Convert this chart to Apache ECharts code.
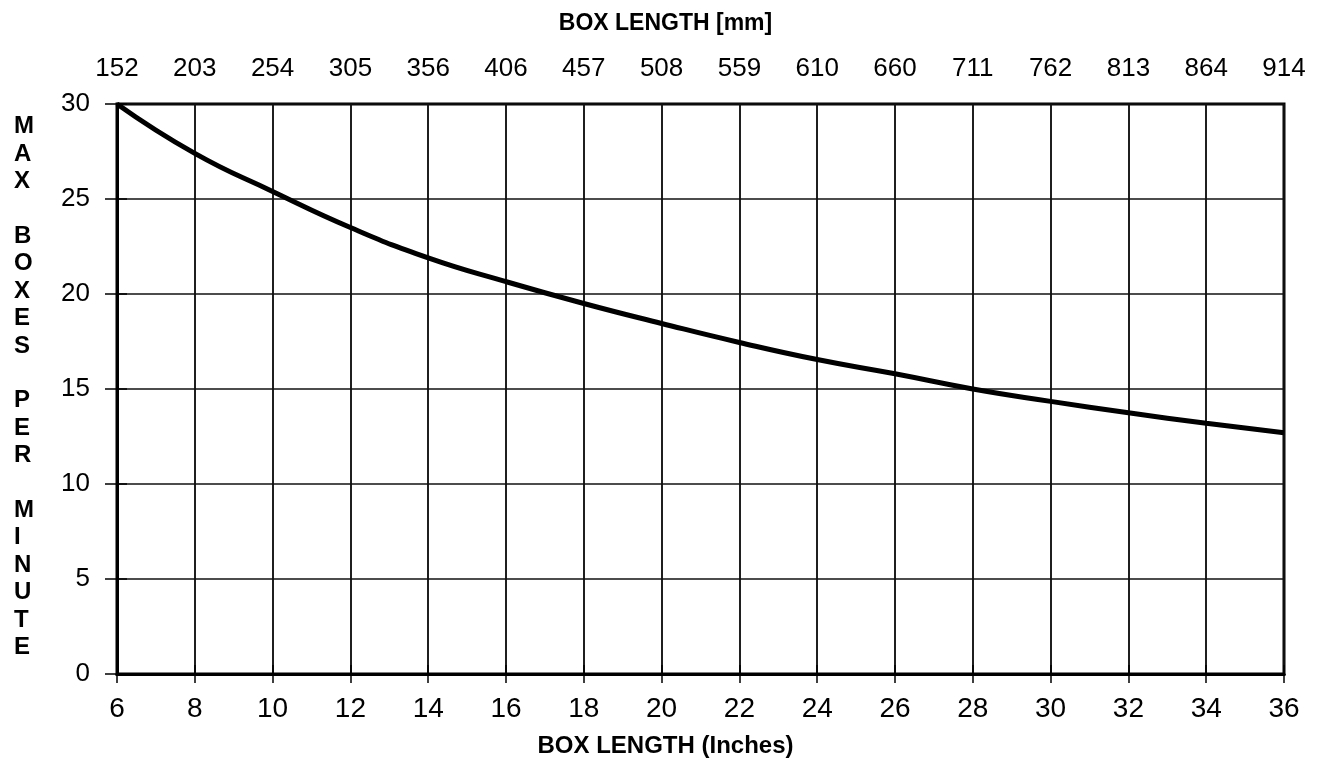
<!DOCTYPE html>
<html>
<head>
<meta charset="utf-8">
<script src="https://cdn.jsdelivr.net/npm/echarts@6/dist/echarts.min.js"></script>
<style>
  html, body { margin: 0; padding: 0; background: #fff; }
  #chart { width: 1331px; height: 774px; }
</style>
</head>
<body>
<div id="chart"></div>
<script>
  // box length in inches and the max boxes per minute
  var inches = [6, 8, 10, 12, 14, 16, 18, 20, 22, 24, 26, 28, 30, 32, 34, 36];
  var boxesPerMin = [30, 27.4, 25.4, 23.5, 21.9, 20.65, 19.5, 18.45, 17.45, 16.55, 15.8, 15.0, 14.35, 13.75, 13.2, 12.7];
  // top axis tick labels (mm)
  var mmLabels = ['152', '203', '254', '305', '356', '406', '457', '508', '559', '610', '660', '711', '762', '813', '864', '914'];
  var yTitle = 'MAX BOXES PER MINUTE';

  var font = '"Liberation Sans", Arial, Helvetica, sans-serif';
  var chart = echarts.init(document.getElementById('chart'));

  var axisCommon = {
    type: 'value',
    min: 6,
    max: 36,
    interval: 2,
    axisLine: { show: true, lineStyle: { color: '#000', width: 3 } },
    axisTick: { show: true, length: 9, lineStyle: { color: '#000', width: 1.5 } },
    splitLine: { show: true, lineStyle: { color: '#111', width: 1.5 } }
  };

  var yCommon = {
    type: 'value',
    min: 0,
    max: 30,
    interval: 5,
    position: 'left'
  };

  chart.setOption({
    backgroundColor: '#fff',
    animation: false,
    title: [
      {
        text: 'BOX LENGTH [mm]',
        left: 'center',
        top: 7,
        textStyle: { fontFamily: font, fontWeight: 'bold', fontSize: 23, color: '#000' }
      },
      {
        text: 'BOX LENGTH (Inches)',
        left: 'center',
        top: 729,
        textStyle: { fontFamily: font, fontWeight: 'bold', fontSize: 24, color: '#000' }
      }
    ],
    grid: {
      left: 117,
      right: 47,
      top: 104,
      bottom: 100,
      show: true,
      borderColor: '#000',
      borderWidth: 3
    },
    xAxis: [
      Object.assign({}, axisCommon, {
        position: 'bottom',
        axisLabel: { margin: 21, fontFamily: font, fontSize: 28, color: '#000' }
      }),
      Object.assign({}, axisCommon, {
        position: 'top',
        axisLabel: {
          margin: 22,
          fontFamily: font,
          fontSize: 26,
          color: '#000',
          formatter: function (v) { return mmLabels[Math.round((v - 6) / 2)]; }
        }
      })
    ],
    yAxis: [
      Object.assign({}, yCommon, {
        axisLine: { show: true, lineStyle: { color: '#000', width: 3 } },
        axisTick: { show: true, length: 12, lineStyle: { color: '#000', width: 1.5 } },
        axisLabel: { margin: 27, fontFamily: font, fontSize: 26, color: '#000' },
        splitLine: { show: true, lineStyle: { color: '#111', width: 1.5 } }
      }),
      // second left axis only to make the ticks cross the axis line
      Object.assign({}, yCommon, {
        axisLine: { show: false },
        axisTick: { show: true, inside: true, length: 10, lineStyle: { color: '#000', width: 1.5 } },
        axisLabel: { show: false },
        splitLine: { show: false }
      })
    ],
    series: [
      {
        type: 'line',
        xAxisIndex: 0,
        yAxisIndex: 0,
        data: inches.map(function (x, i) { return [x, boxesPerMin[i]]; }),
        smooth: true,
        showSymbol: false,
        lineStyle: { color: '#000', width: 5 }
      }
    ],
    graphic: [
      {
        type: 'text',
        left: 14,
        top: 113,
        style: {
          text: yTitle.split('').join('\n'),
          font: 'bold 24px ' + font,
          lineHeight: 27.4,
          fill: '#000',
          align: 'center'
        }
      }
    ]
  });
</script>
</body>
</html>
